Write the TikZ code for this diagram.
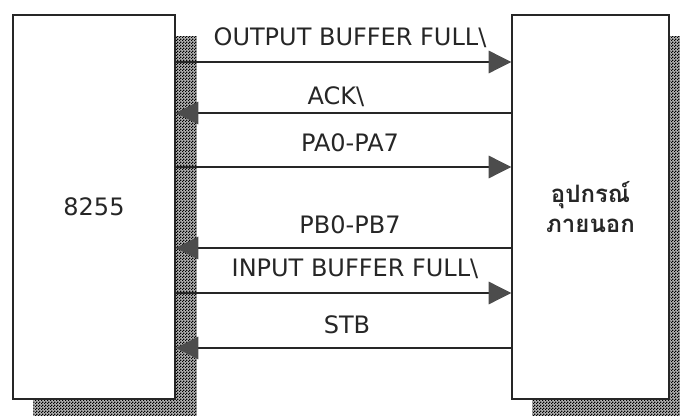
\documentclass[tikz,border=0pt]{standalone}
\usepackage{fontspec}
\setmainfont{DejaVu Sans}
\newfontfamily\thaifont[Script=Thai]{Loma}
\usetikzlibrary{arrows.meta,backgrounds,patterns}

\pgfdeclarepatternformonly{finechecker}{\pgfpointorigin}{\pgfqpoint{2pt}{2pt}}{\pgfqpoint{2pt}{2pt}}{%
  \pgfpathrectangle{\pgfpointorigin}{\pgfqpoint{1pt}{1pt}}%
  \pgfpathrectangle{\pgfqpoint{1pt}{1pt}}{\pgfqpoint{1pt}{1pt}}%
  \pgfusepath{fill}}

\tikzset{
  unitbox/.style={draw=black!85, line width=1.1pt, fill=white, text=black!85,
    minimum height=288pt, inner sep=0pt},
  shade/.style={preaction={fill=black!30}, pattern=finechecker, pattern color=black},
  sig/.style={draw=black!85, line width=0.9pt,
    -{Triangle[length=17pt,width=17pt,fill=black!70,color=black!70]}},
  sigtext/.style={text=black!85, inner sep=1pt}
}

\begin{document}
\begin{tikzpicture}[x=0.75pt,y=-0.75pt,font=\fontsize{18}{22}\selectfont]
  \useasboundingbox (0,0) rectangle (680,416);
  \clip (0,0) rectangle (680,416);

  \node[unitbox, minimum width=121.5pt] (chip) at (94,207) {8255};
  \node[unitbox, minimum width=117.75pt, align=center,
    font=\thaifont\bfseries\fontsize{18}{23}\selectfont] (dev) at (590.5,207) {อุปกรณ์\\ภายนอก};

  \begin{scope}[on background layer]
    \fill[shade] ([shift={(21,22)}]chip.north west) rectangle ([shift={(21,22)}]chip.south east);
    \fill[shade] ([shift={(21,22)}]dev.north west) rectangle ([shift={(21,22)}]dev.south east);
  \end{scope}

  % signal levels
  \coordinate (obfy) at (0,62);
  \coordinate (acky) at (0,113);
  \coordinate (pay) at (0,167);
  \coordinate (pby) at (0,248);
  \coordinate (ibfy) at (0,293);
  \coordinate (stby) at (0,348);

  \draw[sig] (chip.east |- obfy) -- (dev.west |- obfy);
  \draw[sig] (dev.west |- acky) -- (chip.east |- acky);
  \draw[sig] (chip.east |- pay) -- (dev.west |- pay);
  \draw[sig] (dev.west |- pby) -- (chip.east |- pby);
  \draw[sig] (chip.east |- ibfy) -- (dev.west |- ibfy);
  \draw[sig] (dev.west |- stby) -- (chip.east |- stby);

  \node[sigtext] (obf) at (350,38) {OUTPUT BUFFER FULL\textbackslash};
  \node[sigtext] (ack) at (336,97) {ACK\textbackslash};
  \node[sigtext] (pa) at (350,143) {PA0-PA7};
  \node[sigtext] (pb) at (350,225) {PB0-PB7};
  \node[sigtext] (ibf) at (355,269) {INPUT BUFFER FULL\textbackslash};
  \node[sigtext] (stb) at (347,325) {STB};
\end{tikzpicture}
\end{document}
